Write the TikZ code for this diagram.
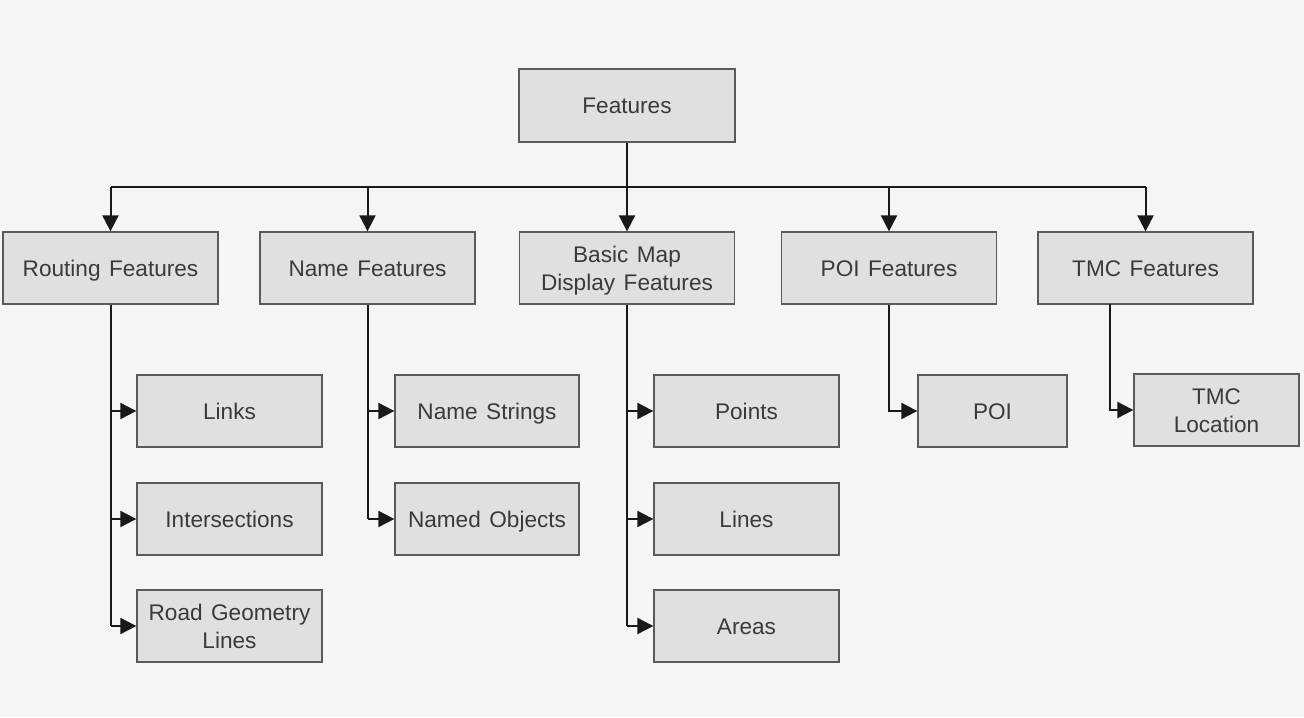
\documentclass[tikz,border=0pt]{standalone}
\usepackage{fontspec}
\setmainfont{Liberation Sans}
\usetikzlibrary{arrows.meta}
\definecolor{bg}{HTML}{F5F5F5}
\definecolor{boxfill}{HTML}{E0E0E0}
\definecolor{boxline}{HTML}{5A5A5A}
\definecolor{txt}{HTML}{3A3A3A}
\newcommand{\myboxfont}{\fontsize{22.6bp}{28bp}\selectfont\spaceskip=8.5bp\relax}
\tikzset{
  box/.style={draw=boxline, fill=boxfill, line width=1.3bp, inner sep=0pt,
    minimum width=215bp, minimum height=72bp, align=center, text=txt,
    text height=16.2bp, text depth=0bp, font=\myboxfont},
  twoline/.style={text height=44.2bp},
  conn/.style={line width=2bp, draw=black!90},
  arr/.style={conn, -{Triangle[length=16bp,width=16bp]}},
}
\begin{document}
\begin{tikzpicture}[x=1bp,y=-1bp]
\fill[bg] (0,0) rectangle (1304,717);
\useasboundingbox (0,0) rectangle (1304,717);

\node[box, minimum width=216bp, minimum height=73bp] (feat) at (627,105.5) {Features};

\node[box] (rout)  at (110.5,268) {Routing Features};
\node[box] (name)  at (367.5,268) {Name Features};
\node[box, twoline] (basic) at (627,268) {Basic Map\\Display Features};
\node[box] (poi)   at (889,268) {POI Features};
\node[box] (tmc)   at (1145.5,268) {TMC Features};

\node[box, minimum width=185bp] (links) at (229.5,411) {Links};
\node[box, minimum width=185bp] (inter) at (229.5,519) {Intersections};
\node[box, twoline, minimum width=185bp] (road)  at (229.5,626) {Road Geometry\\Lines};

\node[box, minimum width=184bp] (nstr) at (487,411) {Name Strings};
\node[box, minimum width=184bp] (nobj) at (487,519) {Named Objects};

\node[box, minimum width=185bp] (points) at (746.5,411) {Points};
\node[box, minimum width=185bp] (lines)  at (746.5,519) {Lines};
\node[box, minimum width=185bp] (areas)  at (746.5,626) {Areas};

\node[box, minimum width=149bp] (poib)   at (992.5,411) {POI};
\node[box, twoline, minimum width=165bp] (tmcloc) at (1216.5,410) {TMC\\Location};

\coordinate (bus) at (627,187);
\draw[conn] (feat.south) -- (feat.south |- bus);
\draw[conn] (rout.north |- bus) -- (tmc.north |- bus);
\foreach \n in {rout,name,basic,poi,tmc}
  \draw[arr] (\n.north |- bus) -- (\n.north);

% Routing
\draw[conn] (rout.south) -- (rout.south |- road.west);
\foreach \c in {links,inter,road}
  \draw[arr] (rout.south |- \c.west) -- (\c.west);
% Name
\draw[conn] (name.south) -- (name.south |- nobj.west);
\foreach \c in {nstr,nobj}
  \draw[arr] (name.south |- \c.west) -- (\c.west);
% Basic map
\draw[conn] (basic.south) -- (basic.south |- areas.west);
\foreach \c in {points,lines,areas}
  \draw[arr] (basic.south |- \c.west) -- (\c.west);
% POI
\draw[arr] (poi.south) |- (poib.west);
% TMC
\coordinate (tmcx) at (1110,304);
\draw[arr] (tmcx) |- (tmcloc.west);
\end{tikzpicture}
\end{document}
